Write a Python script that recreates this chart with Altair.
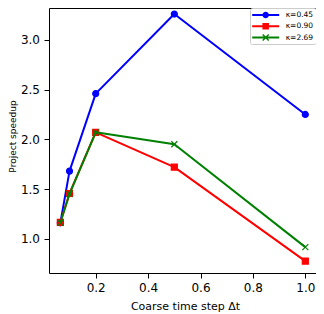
import altair as alt
import pandas as pd

# ---- data ----
dt = [0.065, 0.1, 0.2, 0.5, 1.0]
speedup_045 = [1.16, 1.68, 2.46, 3.26, 2.25]
speedup_090 = [1.165, 1.455, 2.07, 1.72, 0.775]
speedup_269 = [1.16, 1.45, 2.07, 1.95, 0.915]
series = ["κ=0.45", "κ=0.90", "κ=2.69"]
x_ticks = [0.2, 0.4, 0.6, 0.8, 1.0]
y_ticks = [1.0, 1.5, 2.0, 2.5, 3.0]

# ---- styles ----
colors = ["#0000ff", "#ff0000", "#008000"]
marker_paths = ["circle", "square", "M-1,-1L1,1M1,-1L-1,1"]
LINE = "M-2.7,-0.2H2.7V0.2H-2.7Z"
legend_paths = [
    LINE + "M0.65,0A0.65,0.65 0 1,1 -0.65,0A0.65,0.65 0 1,1 0.65,0Z",
    LINE + "M-0.65,-0.65H0.65V0.65H-0.65Z",
    LINE + "M-0.5,-0.7L0.7,0.5L0.5,0.7L-0.7,-0.5ZM0.7,-0.5L-0.5,0.7L-0.7,0.5L0.5,-0.7Z",
]

rows = []
for name, vals in zip(series, [speedup_045, speedup_090, speedup_269]):
    for x, y in zip(dt, vals):
        rows.append({"dt": x, "speedup": y, "kappa": name})
df = pd.DataFrame(rows)

FONT = "DejaVu Sans"
xs = alt.Scale(domain=[0.0217, 1.0408], nice=False, zero=False)
ys = alt.Scale(domain=[0.655, 3.321], nice=False, zero=False)

x_enc = alt.X("dt:Q", scale=xs, axis=alt.Axis(
    values=x_ticks, format=".1f", title="Coarse time step Δt", grid=False, domain=False,
    tickSize=5, tickColor="black", tickWidth=1, labelFontSize=12, labelPadding=4.5,
    labelColor="black", labelFont=FONT, labelFlush=False, titleFont=FONT,
    titleFontSize=11, titleFontWeight="normal", titleColor="black",
    titleX=136, titleY=27, titleBaseline="top", titleAlign="center"))
y_enc = alt.Y("speedup:Q", scale=ys, axis=alt.Axis(
    values=y_ticks, format=".1f", title="Project speedup", grid=False, domain=False,
    tickSize=5, tickColor="black", tickWidth=1, labelFontSize=12, labelPadding=4.5,
    labelColor="black", labelFont=FONT, labelFlush=False, titleFont=FONT,
    titleFontSize=9, titleFontWeight="normal", titleColor="black",
    titleX=-32, titleY=128, titleAngle=270, titleBaseline="bottom", titleAlign="center"))

base = alt.Chart(df)
layers = []
for name, col, path in zip(series, colors, marker_paths):
    sub = base.transform_filter(alt.datum.kappa == name)
    layers.append(sub.mark_line(color=col, strokeWidth=2, strokeJoin="round").encode(x=x_enc, y=y_enc))
    layers.append(sub.mark_point(shape=path, filled=True, fill=col, stroke=col, strokeWidth=1.2,
                                 size=36, opacity=1).encode(x=x_enc, y=y_enc))

leg = alt.Legend(orient="none", legendX=201, legendY=0, title=None, symbolSize=100,
                 symbolOffset=8.7, labelOffset=15, labelFontSize=7.5, labelFont=FONT,
                 labelColor="black", padding=2, rowPadding=2.3, strokeColor="#cccccc",
                 fillColor="white", cornerRadius=2, symbolStrokeWidth=0)
legend_layer = base.transform_filter("false").mark_point(filled=True, opacity=1).encode(
    x=x_enc, y=y_enc,
    color=alt.Color("kappa:N", scale=alt.Scale(domain=series, range=colors), legend=leg),
    shape=alt.Shape("kappa:N", scale=alt.Scale(domain=series, range=legend_paths), legend=leg),
)
layers.append(legend_layer)

chart = alt.layer(*layers).properties(
    width=267, height=265,
    autosize=alt.AutoSizeParams(type="none"),
    padding={"left": 41, "top": 0, "right": 0, "bottom": 41},
).configure_view(stroke="black", strokeWidth=1)

chart.save("out.html", embed_options={"renderer": "svg", "actions": False})
